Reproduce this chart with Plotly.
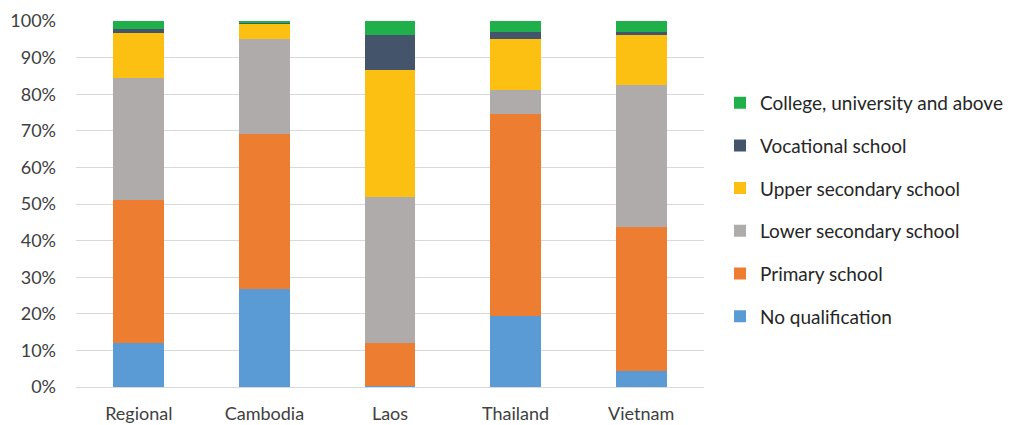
import plotly.graph_objects as go

categories = ["Regional", "Cambodia", "Laos", "Thailand", "Vietnam"]
series_names = ["No qualification", "Primary school", "Lower secondary school",
                "Upper secondary school", "Vocational school", "College, university and above"]
no_qual = [12.0, 26.8, 0.3, 19.3, 4.5]
primary = [39.0, 42.4, 11.8, 55.4, 39.3]
lower_sec = [33.4, 25.9, 39.9, 6.5, 38.7]
upper_sec = [12.2, 4.3, 34.7, 13.9, 13.7]
vocational = [1.2, 0.1, 9.5, 1.8, 0.9]
college = [2.2, 0.5, 3.8, 3.1, 2.9]
colors = ["#5b9bd5", "#ed7d31", "#afabab", "#fbc012", "#44546a", "#20b04b"]

values = [no_qual, primary, lower_sec, upper_sec, vocational, college]

fig = go.Figure()
n = len(series_names)
for i, (name, vals, col) in enumerate(zip(series_names, values, colors)):
    fig.add_trace(go.Bar(
        x=categories, y=[v / 100 for v in vals], name=name,
        marker=dict(color=col, line=dict(width=0)),
        legendgroup=name, legendrank=n - i,
    ))

font_family = "Lato, 'Open Sans', sans-serif"
fig.update_layout(
    barmode="stack",
    bargap=0.596,
    width=1014, height=425,
    margin=dict(l=68, r=318, t=13, b=46, autoexpand=False),
    plot_bgcolor="white", paper_bgcolor="white",
    font=dict(family=font_family, size=18, color="#404040"),
    legend=dict(
        traceorder="grouped", tracegroupgap=15,
        x=1.0255, xanchor="left", y=0.484, yanchor="middle",
        font=dict(size=19, color="#262626"),
        itemwidth=30,
    ),
    showlegend=True,
)
fig.update_yaxes(
    range=[0, 1], tickformat=".0%", dtick=0.1, automargin=False,
    showgrid=True, gridcolor="#d9d9d9", gridwidth=1,
    zeroline=True, zerolinecolor="#d9d9d9", zerolinewidth=1,
    tickfont=dict(size=18, color="#404040"),
    ticks="", ticklabelstandoff=19,
)
fig.update_xaxes(
    showline=False, tickfont=dict(size=18, color="#404040"), automargin=False,
    ticks="", ticklabelstandoff=14,
)
fig.write_html("out.html")
